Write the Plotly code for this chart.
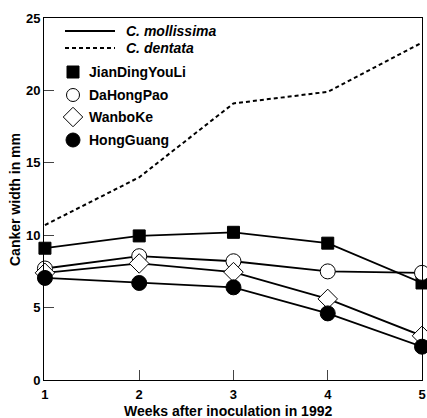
import plotly.graph_objects as go

weeks = [1, 2, 3, 4, 5]
dentata = [10.7, 14.0, 19.1, 19.9, 23.3]
jiandingyouli = [9.1, 9.95, 10.2, 9.45, 6.7]
dahongpao = [7.7, 8.55, 8.2, 7.5, 7.4]
wanboke = [7.4, 8.05, 7.45, 5.6, 3.05]
hongguang = [7.05, 6.7, 6.4, 4.6, 2.3]

species_names = ["C. mollissima", "C. dentata"]
cultivar_names = ["JianDingYouLi", "DaHongPao", "WanboKe", "HongGuang"]

FONT = "Liberation Sans, Arial, sans-serif"
W, H = 427, 418
ML, MR, MT, MB = 44, 5, 18, 38
PW, PH = W - ML - MR, H - MT - MB

fig = go.Figure()

DASH = "4px,3px"
fig.add_trace(go.Scatter(x=weeks, y=dentata, mode="lines",
                         line=dict(color="black", width=2, dash=DASH)))

styles = [
    ("square", "black", 12),
    ("circle", "white", 15),
    ("diamond", "white", 15),
    ("circle", "black", 15),
]
all_vals = [jiandingyouli, dahongpao, wanboke, hongguang]
for vals in all_vals:
    fig.add_trace(go.Scatter(x=weeks, y=vals, mode="lines",
                             line=dict(color="black", width=1.8), cliponaxis=False))
for vals, (sym, fill, sz) in zip(all_vals, styles):
    fig.add_trace(go.Scatter(x=weeks, y=vals, mode="markers",
                             marker=dict(symbol=sym, color=fill, size=sz,
                                         line=dict(color="black", width=1)),
                             cliponaxis=False))

# ---- hand-drawn legend on an overlay pixel axis (x2/y2 in pixel units) ----
ax2 = dict(xaxis="x2", yaxis="y2", showlegend=False, hoverinfo="skip", cliponaxis=False)
leg_line_y = [31, 48]
leg_dash = ["solid", DASH]
for yy, dd in zip(leg_line_y, leg_dash):
    fig.add_trace(go.Scatter(x=[65, 115], y=[yy, yy], mode="lines",
                             line=dict(color="black", width=2, dash=dd), **ax2))
leg_mark_y = [72, 95, 117, 140]
leg_sizes = [12, 13, 15, 14]
for yy, (sym, fill, _), sz in zip(leg_mark_y, styles, leg_sizes):
    fig.add_trace(go.Scatter(x=[73], y=[yy], mode="markers",
                             marker=dict(symbol=sym, color=fill, size=sz,
                                         line=dict(color="black", width=1)), **ax2))

annotations = []
for yy, nm in zip(leg_line_y, species_names):
    annotations.append(dict(x=124, y=yy, xref="x2", yref="y2", text="<i>" + nm + "</i>",
                            showarrow=False, xanchor="left", yanchor="middle",
                            font=dict(size=14, weight="bold")))
for yy, nm in zip(leg_mark_y, cultivar_names):
    annotations.append(dict(x=87, y=yy, xref="x2", yref="y2", text=nm,
                            showarrow=False, xanchor="left", yanchor="middle",
                            font=dict(size=14, weight="bold")))
# axis titles (paper coords computed from pixel targets)
annotations.append(dict(x=(228 - ML) / PW, y=(H - MB - 411) / PH, xref="paper", yref="paper",
                        text="Weeks after inoculation in 1992", showarrow=False,
                        xanchor="center", yanchor="middle", font=dict(size=14, weight="bold")))
annotations.append(dict(x=(15 - ML) / PW, y=(H - MB - 200) / PH, xref="paper", yref="paper",
                        text="Canker width in mm", showarrow=False, textangle=-90,
                        xanchor="center", yanchor="middle", font=dict(size=14, weight="bold")))

fig.update_layout(
    width=W, height=H,
    margin=dict(l=ML, r=MR, t=MT, b=MB),
    paper_bgcolor="white", plot_bgcolor="white",
    font=dict(family=FONT, size=13, color="black", weight="bold"),
    showlegend=False,
    hovermode=False,
    annotations=annotations,
    xaxis=dict(range=[0.99, 5], tickvals=weeks, ticks="inside", ticklen=10,
               showline=True, linecolor="black", linewidth=1, mirror=True,
               showgrid=False, zeroline=False, automargin=False, ticklabelstandoff=2,
               tickfont=dict(size=13, weight="bold")),
    yaxis=dict(range=[0, 25], tickvals=[0, 5, 10, 15, 20, 25], ticks="inside", ticklen=10,
               showline=True, linecolor="black", linewidth=1, mirror=True,
               showgrid=False, zeroline=False, automargin=False,
               tickfont=dict(size=13, weight="bold")),
    xaxis2=dict(range=[ML, W - MR], overlaying="x", visible=False, domain=[0, 1]),
    yaxis2=dict(range=[H - MB, MT], overlaying="y", visible=False, domain=[0, 1]),
)

fig.write_html("out.html", config={"displayModeBar": False, "staticPlot": True},
               post_script="document.body.style.margin='0';")
